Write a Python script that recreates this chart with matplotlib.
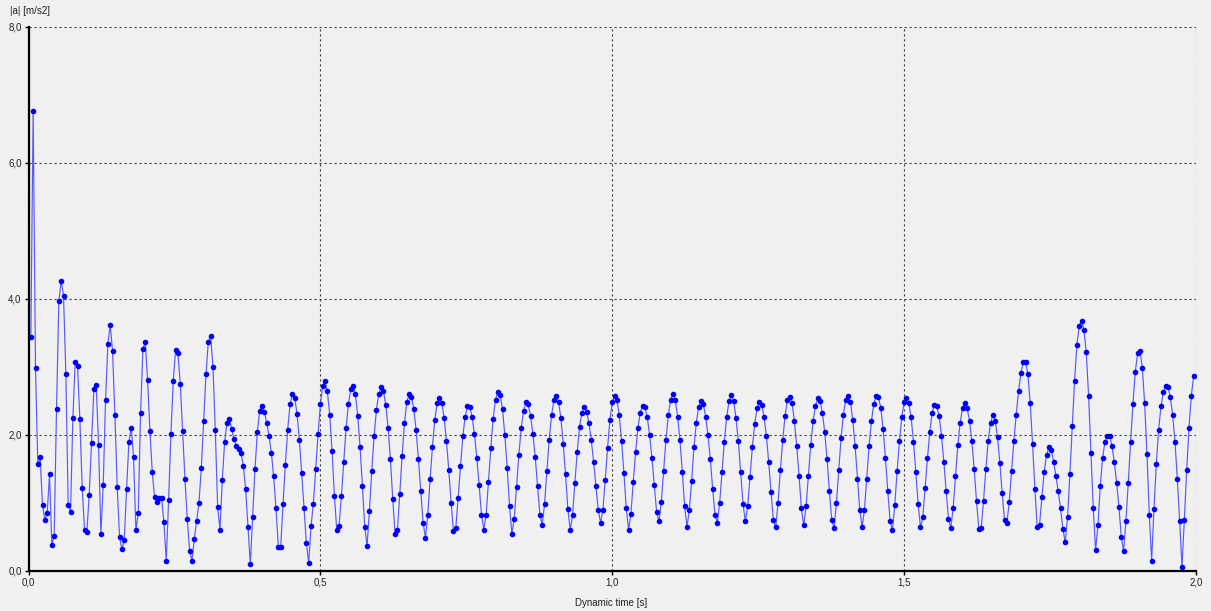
import numpy as np
import matplotlib
matplotlib.use("Agg")
import matplotlib.pyplot as plt
from matplotlib.ticker import FuncFormatter

# Acceleration magnitude |a| [m/s2], sampled every 4 ms starting at t = 0.004 s
sample_interval = 0.004
accel = [
    3.44, 6.77, 2.98, 1.57, 1.67, 0.97, 0.75, 0.85, 1.42, 0.38,
    0.52, 2.38, 3.97, 4.27, 4.05, 2.89, 0.97, 0.87, 2.25, 3.08,
    3.02, 2.23, 1.22, 0.61, 0.58, 1.12, 1.88, 2.67, 2.73, 1.86,
    0.55, 1.26, 2.52, 3.34, 3.62, 3.23, 2.30, 1.23, 0.50, 0.32,
    0.46, 1.20, 1.90, 2.11, 1.67, 0.60, 0.85, 2.32, 3.26, 3.37,
    2.81, 2.06, 1.45, 1.09, 1.01, 1.08, 1.07, 0.72, 0.15, 1.04,
    2.01, 2.80, 3.25, 3.20, 2.75, 2.06, 1.36, 0.76, 0.30, 0.15,
    0.47, 0.73, 1.00, 1.51, 2.20, 2.89, 3.37, 3.46, 3.00, 2.07,
    0.94, 0.61, 1.34, 1.90, 2.18, 2.23, 2.09, 1.94, 1.84, 1.79,
    1.73, 1.55, 1.20, 0.64, 0.10, 0.80, 1.50, 2.04, 2.36, 2.43,
    2.34, 2.18, 1.99, 1.74, 1.39, 0.92, 0.35, 0.35, 0.98, 1.56,
    2.08, 2.45, 2.60, 2.55, 2.31, 1.93, 1.44, 0.92, 0.41, 0.12,
    0.66, 0.99, 1.50, 2.01, 2.45, 2.72, 2.79, 2.64, 2.30, 1.77,
    1.11, 0.61, 0.66, 1.10, 1.61, 2.10, 2.45, 2.67, 2.72, 2.60,
    2.28, 1.82, 1.25, 0.65, 0.37, 0.88, 1.47, 1.98, 2.37, 2.60,
    2.71, 2.65, 2.44, 2.11, 1.64, 1.06, 0.54, 0.60, 1.13, 1.69,
    2.17, 2.48, 2.60, 2.56, 2.38, 2.07, 1.64, 1.17, 0.71, 0.49,
    0.83, 1.35, 1.83, 2.22, 2.47, 2.55, 2.47, 2.25, 1.91, 1.48,
    1.00, 0.59, 0.63, 1.08, 1.54, 1.98, 2.27, 2.42, 2.41, 2.26,
    2.01, 1.66, 1.26, 0.83, 0.61, 0.83, 1.31, 1.81, 2.24, 2.52,
    2.63, 2.59, 2.38, 2.00, 1.52, 0.96, 0.55, 0.76, 1.23, 1.71,
    2.10, 2.35, 2.48, 2.45, 2.28, 2.02, 1.68, 1.25, 0.83, 0.68,
    0.98, 1.47, 1.93, 2.29, 2.51, 2.57, 2.49, 2.25, 1.87, 1.42,
    0.91, 0.60, 0.82, 1.30, 1.75, 2.12, 2.33, 2.41, 2.34, 2.18,
    1.93, 1.61, 1.25, 0.90, 0.71, 0.90, 1.34, 1.81, 2.22, 2.48,
    2.57, 2.51, 2.29, 1.91, 1.44, 0.92, 0.61, 0.84, 1.31, 1.75,
    2.10, 2.33, 2.43, 2.41, 2.26, 2.00, 1.66, 1.26, 0.87, 0.73,
    1.01, 1.47, 1.93, 2.29, 2.52, 2.60, 2.51, 2.27, 1.92, 1.46,
    0.95, 0.65, 0.89, 1.33, 1.82, 2.18, 2.41, 2.50, 2.45, 2.27,
    2.00, 1.64, 1.21, 0.83, 0.71, 1.00, 1.45, 1.90, 2.26, 2.50,
    2.59, 2.50, 2.25, 1.91, 1.46, 0.99, 0.73, 0.95, 1.38, 1.82,
    2.16, 2.39, 2.49, 2.44, 2.27, 1.99, 1.60, 1.16, 0.75, 0.64,
    1.00, 1.48, 1.92, 2.28, 2.51, 2.56, 2.47, 2.21, 1.84, 1.40,
    0.92, 0.67, 0.95, 1.40, 1.85, 2.20, 2.43, 2.54, 2.50, 2.33,
    2.04, 1.64, 1.17, 0.75, 0.63, 1.00, 1.49, 1.96, 2.30, 2.52,
    2.58, 2.49, 2.22, 1.84, 1.36, 0.90, 0.64, 0.90, 1.36, 1.84,
    2.20, 2.46, 2.57, 2.56, 2.40, 2.09, 1.66, 1.18, 0.73, 0.60,
    0.97, 1.47, 1.91, 2.26, 2.48, 2.55, 2.47, 2.26, 1.90, 1.46,
    0.99, 0.64, 0.79, 1.22, 1.66, 2.05, 2.33, 2.44, 2.42, 2.28,
    1.99, 1.61, 1.17, 0.77, 0.63, 0.93, 1.40, 1.85, 2.18, 2.39,
    2.47, 2.39, 2.21, 1.91, 1.50, 1.03, 0.62, 0.63, 1.03, 1.50,
    1.91, 2.18, 2.29, 2.21, 1.97, 1.59, 1.14, 0.75, 0.70, 1.01,
    1.47, 1.91, 2.30, 2.64, 2.91, 3.07, 3.08, 2.89, 2.47, 1.87,
    1.21, 0.64, 0.68, 1.09, 1.46, 1.71, 1.82, 1.78, 1.61, 1.40,
    1.17, 0.92, 0.62, 0.42, 0.79, 1.43, 2.13, 2.80, 3.33, 3.61,
    3.67, 3.55, 3.22, 2.58, 1.74, 0.92, 0.31, 0.67, 1.25, 1.66,
    1.90, 1.99, 1.99, 1.84, 1.61, 1.30, 0.94, 0.50, 0.29, 0.74,
    1.30, 1.90, 2.46, 2.93, 3.20, 3.24, 2.99, 2.47, 1.72, 0.83,
    0.15, 0.91, 1.57, 2.08, 2.42, 2.63, 2.72, 2.70, 2.56, 2.29,
    1.90, 1.36, 0.73, 0.06, 0.75, 1.48, 2.11, 2.58, 2.87,
]
time = np.arange(1, len(accel) + 1) * sample_interval

x_ticks = [0.0, 0.5, 1.0, 1.5, 2.0]
y_ticks = [0.0, 2.0, 4.0, 6.0, 8.0]

bg = "#f0f0f0"
plt.rcParams["font.family"] = ["Liberation Sans", "DejaVu Sans"]

fig = plt.figure(figsize=(12.11, 6.11), dpi=100, facecolor=bg)
ax = fig.add_axes([28.5 / 1211, 1 - 571 / 611, (1196 - 28.5) / 1211, (571 - 27) / 611])
ax.set_facecolor(bg)

ax.plot(time, accel, color="#5858ff", lw=0.85, zorder=3)
ax.plot(time, accel, ls="none", marker="o", ms=3.0, mfc="#0000ff", mec="#0000ff", zorder=4)

ax.set_xlim(0, 2.0)
ax.set_ylim(0, 8.0)
ax.set_xticks(x_ticks)
ax.set_yticks(y_ticks)
comma = FuncFormatter(lambda v, p: f"{v:.1f}".replace(".", ","))
ax.xaxis.set_major_formatter(comma)
ax.yaxis.set_major_formatter(comma)
ax.tick_params(axis="both", direction="out", length=3, width=1, color="black",
               labelsize=7, labelcolor="#222222", pad=2)

ax.grid(True, color="#404040", linestyle=(0, (2, 2.5)), linewidth=0.8, zorder=1)
for s in ("top", "right"):
    ax.spines[s].set_visible(False)
for s in ("left", "bottom"):
    ax.spines[s].set_color("black")
    ax.spines[s].set_linewidth(1.6)
    ax.spines[s].set_zorder(5)

fig.text(10 / 1211, 1 - 11 / 611, "|a| [m/s2]", fontsize=7, color="#222222",
         ha="left", va="center")
fig.text(611 / 1211, 1 - 598 / 611, "Dynamic time [s]", fontsize=7, color="#222222",
         ha="center", va="top")

fig.savefig("out.png", dpi=100, facecolor=bg)
